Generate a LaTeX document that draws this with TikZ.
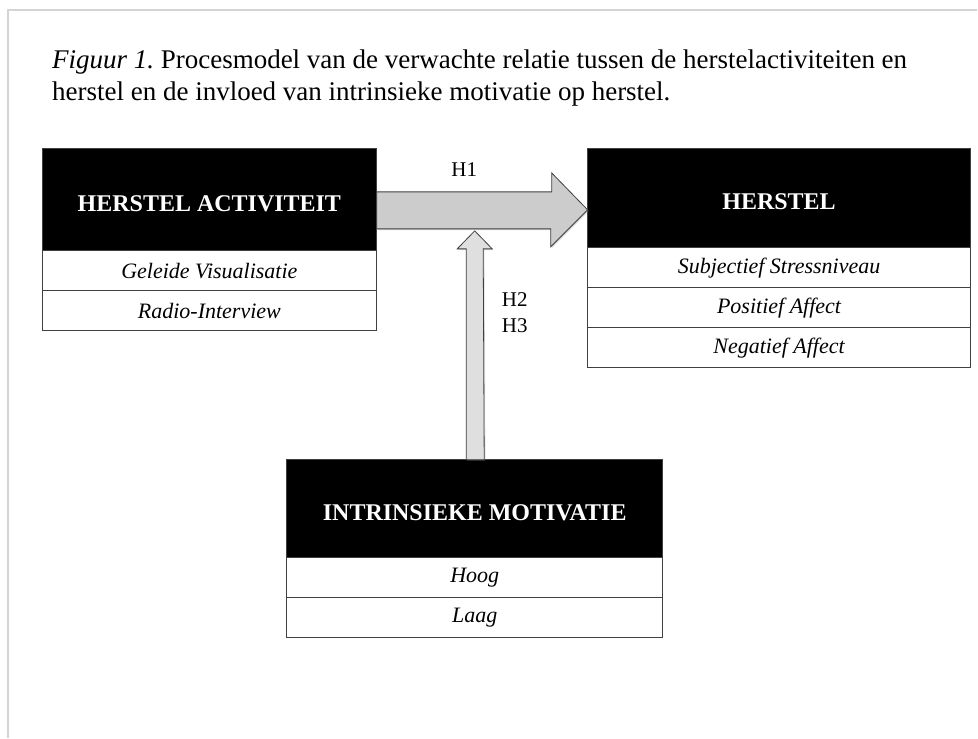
\documentclass[tikz,border=0pt]{standalone}
\usepackage{fontspec}
\setmainfont{Liberation Serif}
\usetikzlibrary{positioning}
\usetikzlibrary{shadows}
\definecolor{arrowgray}{HTML}{CCCCCC}
\definecolor{arrowlight}{HTML}{DFDFDF}
\definecolor{edgegray}{HTML}{404040}
\definecolor{framegray}{HTML}{D4D4D4}
\tikzset{head/.style={rectangle,fill=black,draw=edgegray,line width=0.8pt,text=white,font=\fontsize{24}{27}\selectfont\bfseries,text height=24pt,inner sep=0pt,outer sep=0pt,anchor=north west},
	row/.style={rectangle,fill=white,draw=edgegray,line width=0.8pt,font=\fontsize{22}{25}\selectfont\itshape,minimum height=40pt,inner sep=0pt,outer sep=0pt,below=0pt of #1},
	blockarrow/.style={draw=edgegray,line width=0.8pt,line join=miter,drop shadow={opacity=0.3,shadow xshift=1.2pt,shadow yshift=-1.2pt}},
	hlabel/.style={font=\fontsize{21}{26}\selectfont,inner sep=0pt,align=left}}

\begin{document}
\begin{tikzpicture}[x=1pt,y=1pt]
	\fill[white] (0,0) rectangle (978,-738);
	\draw[framegray,line width=1.2pt] (978,-10) -- (8,-10) -- (8,-738);
	\node[anchor=north west,align=left,inner sep=0pt,font=\fontsize{27}{32}\selectfont\frenchspacing] (title) at (52,-50) {\textit{Figuur 1.} Procesmodel van de verwachte relatie tussen de herstelactiviteiten en\\herstel en de invloed van intrinsieke motivatie op herstel.};
	% boxes
	\node[head,minimum width=335pt,minimum height=103pt] (HA) at (42,-148) {HERSTEL ACTIVITEIT};
	\node[row=HA,minimum width=335pt] (HA1) {Geleide Visualisatie}; \node[row=HA1,minimum width=335pt] (HA2) {Radio-Interview};
	\node[head,minimum width=383pt,minimum height=100pt] (H) at (588,-148) {HERSTEL};
	\node[row=H,minimum width=383pt] (H1) {Subjectief Stressniveau}; \node[row=H1,minimum width=383pt] (H2) {Positief Affect}; \node[row=H2,minimum width=383pt] (H3) {Negatief Affect};
	\node[head,minimum width=376pt,minimum height=98pt] (IM) at (287,-460) {INTRINSIEKE MOTIVATIE};
	\node[row=IM,minimum width=376pt] (IM1) {Hoog}; \node[row=IM1,minimum width=376pt] (IM2) {Laag};
	% arrows
	\draw[blockarrow,fill=arrowgray] ([yshift=-44pt]HA.north east) -- ++(175,0) -- ++(0,19) -- ([yshift=-62pt]H.north west) -- ++(-37,-37) -- ++(0,18) -- ([yshift=-81pt]HA.north east) -- cycle;
	\draw[blockarrow,fill=arrowlight] ([xshift=-8.5pt]IM.north) -- ++(0,211) -- ++(-9,0) -- ++(17.5,18) -- ++(17.5,-18) -- ++(-9,0) -- ([xshift=9.5pt]IM.north) -- cycle;
	\node[hlabel,anchor=base] (lab1) at (464.5,-177) {H1};
	\node[hlabel,anchor=north west] (lab23) at (502,-293) {H2\\H3};
\end{tikzpicture}
\end{document}
